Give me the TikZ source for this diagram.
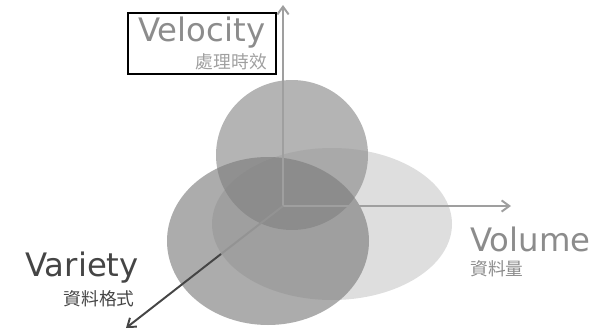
\documentclass[tikz,border=0pt]{standalone}
\usepackage{fontspec}
\setmainfont{DejaVu Sans}
\newfontfamily\cjkfont{Noto Sans CJK TC}
\usetikzlibrary{arrows.meta}

\definecolor{volfill}{gray}{0.87}
\definecolor{velfill}{gray}{0.56}
\definecolor{varfill}{gray}{0.49}
\definecolor{lighttext}{gray}{0.55}
\definecolor{darktext}{gray}{0.27}

\begin{document}
\begin{tikzpicture}[
    x=0.025cm, y=-0.025cm,
    % big English word, small Chinese line under it
    title/.style={inner sep=0pt, font=\fontsize{23}{25}\selectfont},
    subtitle/.style={inner sep=0pt, font=\cjkfont\fontsize{12.6}{14}\selectfont},
    axis/.style={line width=1.4pt, -{Straight Barb[length=5.5pt, width=8pt]}},
    ]
    \useasboundingbox (0,0) rectangle (601,330);

    % the three Vs
    \fill[volfill] (332,224) ellipse [x radius=120, y radius=76];
    \fill[velfill, fill opacity=0.67] (292,155) ellipse [x radius=76, y radius=75];
    \fill[varfill, fill opacity=0.64] (268,241) ellipse [x radius=101, y radius=84];

    % axes
    \coordinate (o) at (283,206);
    \coordinate (vtop) at (283,5);
    \coordinate (hend) at (511,206);
    \coordinate (dmid) at (221,254);
    \coordinate (dend) at (126,328);
    \draw[axis, gray!75] (o) -- (vtop);
    \draw[axis, gray!75] (o) -- (hend);
    \draw[line width=1.4pt, gray!85] (o) -- (dmid);
    \draw[axis, darktext] (dmid) -- (dend);

    % labels
    \node[title, text=lighttext, anchor=base west] (vel) at (138,41.7) {Velocity};
    \node[subtitle, text=gray!75, anchor=base east] (velsub) at (267,68) {處理時效};
    \draw[line width=1.1pt] (128,13) rectangle (276,74);

    \node[title, text=darktext, anchor=base west] (var) at (25,276.7) {Variety};
    \node[subtitle, text=darktext, anchor=base east] (varsub) at (135,305.5) {資料格式};

    \node[title, text=lighttext, anchor=base west] (vol) at (470,251.7) {Volume};
    \node[subtitle, text=lighttext, anchor=base west] (volsub) at (470,275.5) {資料量};

\end{tikzpicture}
\end{document}
